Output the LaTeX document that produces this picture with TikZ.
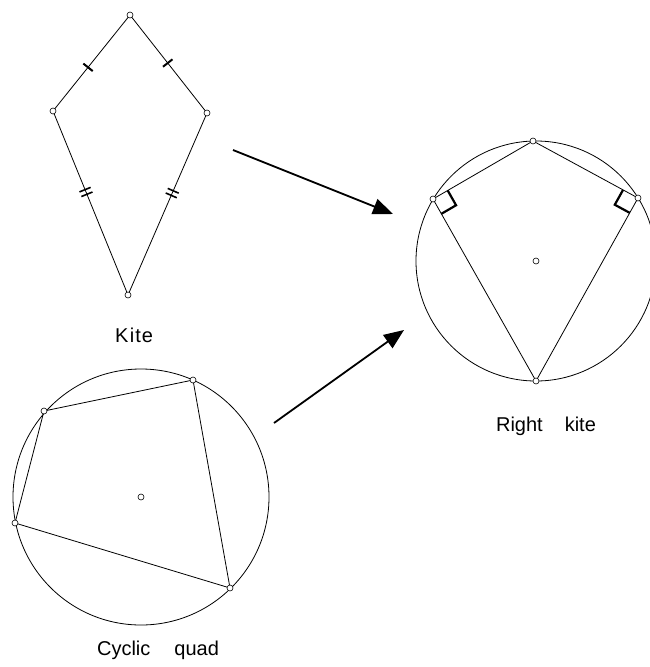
\documentclass[tikz,border=0pt]{standalone}
\usepackage{fontspec}
\setmainfont{Liberation Sans}
\usetikzlibrary{calc,arrows.meta}
\begin{document}
\begin{tikzpicture}[x=1pt,y=-1pt,
  vdot/.style={circle,draw,fill=white,inner sep=0pt,minimum size=6pt,line width=0.6pt},
  edge/.style={line width=0.8pt},
  tickmark/.style={line width=2pt},
  ramark/.style={line width=2.2pt},
  bigarrow/.style={line width=1.8pt,-{Triangle[length=20pt,width=16pt]}},
  lbl/.style={font=\fontsize{20}{24}\selectfont,anchor=base}]
\useasboundingbox (0,0) rectangle (650,667);

% ---------- Kite ----------
\coordinate (KT) at (130,15);
\coordinate (KL) at (53,111);
\coordinate (KR) at (207,113);
\coordinate (KB) at (128,295);
\draw[edge] (KT) -- (KL) -- (KB) -- (KR) -- cycle;
% single ticks
\coordinate (t1) at ($(KT)!0.545!(KL)$);
\coordinate (t2) at ($(KT)!0.49!(KR)$);
\draw[tickmark] ($(t1)!6pt!90:(KL)$) -- ($(t1)!6pt!-90:(KL)$);
\draw[tickmark] ($(t2)!6pt!90:(KR)$) -- ($(t2)!6pt!-90:(KR)$);
% double ticks
\coordinate (t3) at ($(KL)!0.44!(KB)$);
\coordinate (t4) at ($(KR)!0.44!(KB)$);
\foreach \p/\q in {t3/KB,t4/KB}{
  \coordinate (pa) at ($(\p)!2.5pt!(\q)$);
  \coordinate (pb) at ($(\p)!-2.5pt!(\q)$);
  \draw[tickmark,line width=1.6pt] ($(pa)!6pt!90:(\q)$) -- ($(pa)!6pt!-90:(\q)$);
  \draw[tickmark,line width=1.6pt] ($(pb)!6pt!90:(\q)$) -- ($(pb)!6pt!-90:(\q)$);
}
\node[vdot] (kt) at (KT) {};
\node[vdot] (kl) at (KL) {};
\node[vdot] (kr) at (KR) {};
\node[vdot] (kb) at (KB) {};
\node[lbl] (kitelbl) at (134,342) {K\kern1.5pt i\kern1pt t\kern1pt e};

% ---------- Right kite ----------
\coordinate (RO) at (536,261);
\coordinate (RT) at (533,141);
\coordinate (RL) at (433,199);
\coordinate (RR) at (638,198);
\coordinate (RB) at (536,381);
\draw[edge] (RO) circle (120);
\draw[edge] (RT) -- (RL) -- (RB) -- (RR) -- cycle;
\coordinate (la) at ($(RL)!17pt!(RT)$);
\coordinate (lb) at ($(RL)!17pt!(RB)$);
\coordinate (lc) at ($(la)+(lb)-(RL)$);
\draw[ramark] (la) -- (lc) -- (lb);
\coordinate (ra) at ($(RR)!17pt!(RT)$);
\coordinate (rb) at ($(RR)!17pt!(RB)$);
\coordinate (rc) at ($(ra)+(rb)-(RR)$);
\draw[ramark] (ra) -- (rc) -- (rb);
\node[vdot] (ro) at (RO) {};
\node[vdot] (rt) at (RT) {};
\node[vdot] (rl) at (RL) {};
\node[vdot] (rr) at (RR) {};
\node[vdot] (rbn) at (RB) {};
\node[lbl] (rklbl) at (546,431) {Right\hspace{22pt}kite};

% ---------- Cyclic quad ----------
\coordinate (CO) at (141,497);
\coordinate (CA) at (44,411);
\coordinate (CB) at (193,380);
\coordinate (CC) at (230,588);
\coordinate (CD) at (15,523);
\draw[edge] (CO) circle (128);
\draw[edge] (CA) -- (CB) -- (CC) -- (CD) -- cycle;
\node[vdot] (co) at (CO) {};
\node[vdot] (ca) at (CA) {};
\node[vdot] (cb) at (CB) {};
\node[vdot] (cc) at (CC) {};
\node[vdot] (cd) at (CD) {};
\node[lbl] (cqlbl) at (158,655) {Cyclic\hspace{24pt}quad};

% ---------- Arrows ----------
\coordinate (a1s) at (233,150);
\coordinate (a1e) at (393,214);
\coordinate (a2s) at (274,423);
\coordinate (a2e) at (404,330);
\draw[bigarrow] (a1s) -- (a1e);
\draw[bigarrow] (a2s) -- (a2e);
\end{tikzpicture}
\end{document}
